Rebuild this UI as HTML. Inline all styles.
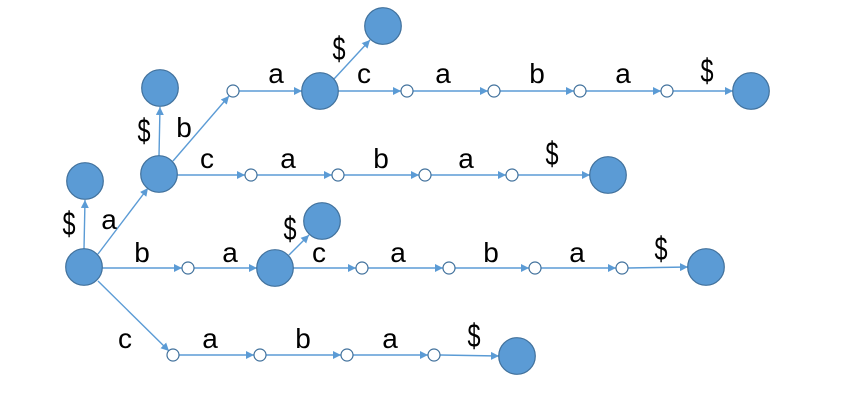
<!DOCTYPE html>
<html lang="en">
<head>
<meta charset="utf-8">
<title>Suffix tree diagram</title>
<style>
  html, body { margin: 0; padding: 0; background: #fff; }
  svg { display: block; }
  .e { stroke: #5b9bd5; stroke-width: 1.4; fill: none; marker-end: url(#arrowhead); }
  .n { fill: #5b9bd5; stroke: #41719c; stroke-width: 1.2; }
  .s { fill: #fff; stroke: #41719c; stroke-width: 1.2; }
  text { font-family: "Liberation Sans", sans-serif; font-size: 28px; fill: #000; text-anchor: middle; }
  text.d { font-size: 33px; }
</style>
</head>
<body>
<svg width="857" height="413" viewBox="0 0 857 413" xmlns="http://www.w3.org/2000/svg">
  <defs>
    <marker id="arrowhead" markerUnits="userSpaceOnUse" markerWidth="9" markerHeight="8" refX="8" refY="4" orient="auto">
      <path d="M0,0 L8,4 L0,8 Z" fill="#5b9bd5"/>
    </marker>
  </defs>

  <g>
    <line class="e" x1="84" y1="249" x2="85" y2="200"/>
    <line class="e" x1="98" y1="254" x2="148" y2="188"/>
    <line class="e" x1="159" y1="156" x2="160" y2="107"/>
    <line class="e" x1="173" y1="161" x2="229" y2="96"/>
    <line class="e" x1="239" y1="91" x2="302" y2="91"/>
    <line class="e" x1="334" y1="79" x2="370" y2="40"/>
    <line class="e" x1="338" y1="91" x2="401" y2="91"/>
    <line class="e" x1="413" y1="91" x2="488" y2="91"/>
    <line class="e" x1="500" y1="91" x2="574" y2="91"/>
    <line class="e" x1="586" y1="91" x2="661" y2="91"/>
    <line class="e" x1="673" y1="91" x2="733" y2="91"/>

    <line class="e" x1="177" y1="175" x2="245" y2="175"/>
    <line class="e" x1="257" y1="175" x2="332" y2="175"/>
    <line class="e" x1="344" y1="175" x2="419" y2="175"/>
    <line class="e" x1="431" y1="175" x2="506" y2="175"/>
    <line class="e" x1="518" y1="175" x2="590" y2="175"/>

    <line class="e" x1="102" y1="268" x2="182" y2="268"/>
    <line class="e" x1="194" y1="268" x2="257" y2="268"/>
    <line class="e" x1="289" y1="255" x2="309" y2="235"/>
    <line class="e" x1="293" y1="268" x2="356" y2="268"/>
    <line class="e" x1="368" y1="268" x2="443" y2="268"/>
    <line class="e" x1="455" y1="268" x2="529" y2="268"/>
    <line class="e" x1="541" y1="268" x2="616" y2="268"/>
    <line class="e" x1="628" y1="268" x2="688" y2="267"/>

    <line class="e" x1="98" y1="281" x2="169" y2="351"/>
    <line class="e" x1="179" y1="355" x2="254" y2="355"/>
    <line class="e" x1="266" y1="355" x2="341" y2="355"/>
    <line class="e" x1="353" y1="355" x2="428" y2="355"/>
    <line class="e" x1="440" y1="355" x2="499" y2="356"/>
  </g>

  <g>
    <circle class="n" cx="84" cy="267" r="18.3"/>
    <circle class="n" cx="85" cy="181" r="18.3"/>
    <circle class="n" cx="159" cy="174" r="18.3"/>
    <circle class="n" cx="160" cy="88" r="18.3"/>
    <circle class="n" cx="320" cy="91" r="18.3"/>
    <circle class="n" cx="383" cy="26" r="18.3"/>
    <circle class="n" cx="751" cy="91" r="18.3"/>
    <circle class="n" cx="608" cy="175" r="18.3"/>
    <circle class="n" cx="275" cy="268" r="18.3"/>
    <circle class="n" cx="322" cy="221" r="18.3"/>
    <circle class="n" cx="706" cy="267" r="18.3"/>
    <circle class="n" cx="517" cy="356" r="18.3"/>
  </g>

  <g>
    <circle class="s" cx="233" cy="91" r="6"/>
    <circle class="s" cx="407" cy="91" r="6"/>
    <circle class="s" cx="494" cy="91" r="6"/>
    <circle class="s" cx="580" cy="91" r="6"/>
    <circle class="s" cx="667" cy="91" r="6"/>
    <circle class="s" cx="251" cy="175" r="6"/>
    <circle class="s" cx="338" cy="175" r="6"/>
    <circle class="s" cx="425" cy="175" r="6"/>
    <circle class="s" cx="512" cy="175" r="6"/>
    <circle class="s" cx="188" cy="268" r="6"/>
    <circle class="s" cx="362" cy="268" r="6"/>
    <circle class="s" cx="449" cy="268" r="6"/>
    <circle class="s" cx="535" cy="268" r="6"/>
    <circle class="s" cx="622" cy="268" r="6"/>
    <circle class="s" cx="173" cy="355" r="6"/>
    <circle class="s" cx="260" cy="355" r="6"/>
    <circle class="s" cx="347" cy="355" r="6"/>
    <circle class="s" cx="434" cy="355" r="6"/>
  </g>

  <g>
    <text class="d" textLength="13" lengthAdjust="spacingAndGlyphs" x="339" y="60">$</text>
    <text x="276" y="83">a</text>
    <text x="364" y="83">c</text>
    <text x="443" y="83">a</text>
    <text x="537" y="83">b</text>
    <text x="623" y="83">a</text>
    <text class="d" textLength="13" lengthAdjust="spacingAndGlyphs" x="707" y="82">$</text>

    <text class="d" textLength="13" lengthAdjust="spacingAndGlyphs" x="144" y="142">$</text>
    <text x="184" y="137">b</text>
    <text x="207" y="168">c</text>
    <text x="288" y="168">a</text>
    <text x="381" y="168">b</text>
    <text x="466" y="168">a</text>
    <text class="d" textLength="13" lengthAdjust="spacingAndGlyphs" x="552" y="165">$</text>

    <text class="d" textLength="13" lengthAdjust="spacingAndGlyphs" x="69" y="235">$</text>
    <text x="109" y="229">a</text>
    <text x="142" y="262">b</text>
    <text x="230" y="262">a</text>
    <text class="d" textLength="13" lengthAdjust="spacingAndGlyphs" x="290" y="240">$</text>
    <text x="319" y="262">c</text>
    <text x="398" y="262">a</text>
    <text x="491" y="262">b</text>
    <text x="577" y="262">a</text>
    <text class="d" textLength="13" lengthAdjust="spacingAndGlyphs" x="661" y="260">$</text>

    <text x="125" y="348">c</text>
    <text x="210" y="348">a</text>
    <text x="303" y="348">b</text>
    <text x="390" y="348">a</text>
    <text class="d" textLength="13" lengthAdjust="spacingAndGlyphs" x="474" y="347">$</text>
  </g>
</svg>
</body>
</html>
